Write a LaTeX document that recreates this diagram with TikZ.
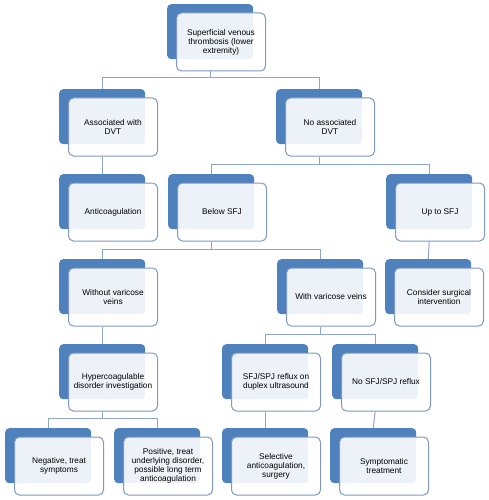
\documentclass[tikz,border=0pt]{standalone}
\usepackage{fontspec}
\setmainfont{Liberation Sans}
\usetikzlibrary{calc}
\definecolor{backblue}{RGB}{79,129,189}
\definecolor{edgeblue}{RGB}{127,153,191}
\definecolor{linkblue}{RGB}{140,165,200}
\tikzset{
  backbox/.style={draw=none, fill=backblue, rounded corners=4pt, minimum width=86pt, minimum height=55pt, inner sep=0pt, anchor=north west},
  frontbox/.style={draw=edgeblue, line width=1pt, fill=white, fill opacity=0.9, text opacity=1, rounded corners=5pt, minimum width=89pt, minimum height=58pt, inner sep=1pt, anchor=north west, align=center, font=\fontsize{8.3}{9}\selectfont},
  link/.style={draw=linkblue, line width=1pt}
}
\newcommand{\flowbox}[4]{%
  \node[backbox] (b#1) at (#2,#3) {};
  \node[frontbox] (f#1) at (#2+9,#3+8.5) {#4};
}
\begin{document}
\begin{tikzpicture}[x=1pt,y=-1pt]
\useasboundingbox (0,0) rectangle (488,500);
\flowbox{top}{167}{4}{Superficial venous\\thrombosis (lower\\extremity)}
\flowbox{assoc}{59}{89}{Associated with\\DVT}
\flowbox{noassoc}{276}{89}{No associated\\DVT}
\flowbox{anti}{59}{174}{Anticoagulation}
\flowbox{below}{168}{174}{Below SFJ}
\flowbox{upto}{386}{174}{Up to SFJ}
\flowbox{without}{59}{259}{Without varicose\\veins}
\flowbox{with}{277}{259}{With varicose veins}
\flowbox{surg}{385}{259}{Consider surgical\\intervention}
\flowbox{hyper}{59}{344}{Hypercoagulable\\disorder investigation}
\flowbox{reflux}{222}{344}{SFJ/SPJ reflux on\\duplex ultrasound}
\flowbox{noreflux}{332}{344}{No SFJ/SPJ reflux}
\flowbox{neg}{5}{428}{Negative, treat\\symptoms}
\flowbox{pos}{114}{428}{Positive, treat\\underlying disorder,\\possible long term\\anticoagulation}
\flowbox{sel}{222}{428}{Selective\\anticoagulation,\\surgery}
\flowbox{symp}{330}{428}{Symptomatic\\treatment}
% connectors
\coordinate (jtop) at ($(btop.center |- ftop.south)+(0,6.5)$);
\draw[link] (btop.center |- ftop.south) -- (jtop) -| (bassoc.north);
\draw[link] (jtop) -| (bnoassoc.north);
\draw[link] (bassoc.center |- fassoc.south) -- (banti.north);
\coordinate (jno) at ($(bnoassoc.center |- fnoassoc.south)+(0,7.5)$);
\draw[link] (bnoassoc.center |- fnoassoc.south) -- (jno) -| (bbelow.north);
\draw[link] (jno) -| (bupto.north);
\coordinate (jbelow) at ($(bbelow.center |- fbelow.south)+(0,7.5)$);
\draw[link] (bbelow.center |- fbelow.south) -- (jbelow) -| (bwithout.north);
\draw[link] (jbelow) -| (bwith.north);
\draw[link] (bupto.center |- fupto.south) -- (bsurg.north);
\draw[link] (bwithout.center |- fwithout.south) -- (bhyper.north);
\coordinate (jwith) at ($(bwith.center |- fwith.south)+(0,7.5)$);
\draw[link] (bwith.center |- fwith.south) -- (jwith) -| (breflux.north);
\draw[link] (jwith) -| (bnoreflux.north);
\coordinate (jhyper) at ($(bhyper.center |- fhyper.south)+(0,6.5)$);
\draw[link] (bhyper.center |- fhyper.south) -- (jhyper) -| (bneg.north);
\draw[link] (jhyper) -| (bpos.north);
\draw[link] (breflux.center |- freflux.south) -- (bsel.north);
\draw[link] (bnoreflux.center |- fnoreflux.south) -- (bsymp.north);
\end{tikzpicture}
\end{document}
